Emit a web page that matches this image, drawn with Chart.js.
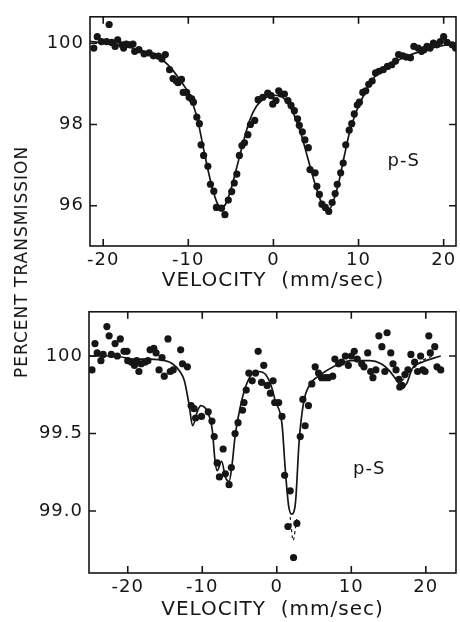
<!DOCTYPE html>
<html lang="en">
<head>
  <meta charset="UTF-8" />
  <title>Percent transmission vs velocity</title>
  <script src="https://cdn.jsdelivr.net/npm/chart.js"></script>
  <style>
    body { margin: 0; background: #fff; }
    #wrap { position: relative; width: 460px; height: 622px; }
    #topChart { position: absolute; left: 0; top: 0; }
    #bottomChart { position: absolute; left: 0; top: 295px; }
    #yLabel {
      position: absolute; left: 21px; top: 262px;
      transform: translate(-50%, -50%) rotate(-90deg);
      font: 17px "DejaVu Sans"; letter-spacing: 1px; white-space: nowrap; color: #111;
    }
  </style>
</head>
<body>
  <div id="wrap">
    <canvas id="topChart" width="460" height="295"></canvas>
    <canvas id="bottomChart" width="460" height="327"></canvas>
    <div id="yLabel">PERCENT TRANSMISSION</div>
  </div>

  <script>
    // ---- top panel (p-S, wide velocity scan) ----
    const topVel = [-21.1, -20.7, -20.2, -19.6, -19.3, -19.0, -18.6, -18.3, -17.8, -17.6, -17.3, -16.9, -16.5, -16.3,
      -15.8, -15.2, -14.6, -14.1, -13.5, -13.1, -12.7, -12.2, -11.8, -11.4, -11.2, -10.8, -10.6, -10.2, -9.9, -9.6,
      -9.4, -9.0, -8.7, -8.5, -8.2, -7.7, -7.4, -7.0, -6.7, -6.1, -5.7, -5.3, -4.9, -4.6, -4.3, -4.0, -3.7, -3.4,
      -3.0, -2.7, -2.2, -1.8, -1.25, -0.67, -0.27, -0.08, 0.3, 0.62, 0.9, 1.29, 1.7, 2.07, 2.46, 2.84, 3.04, 3.4,
      3.7, 4.1, 4.3, 4.9, 5.1, 5.4, 5.7, 6.1, 6.5, 6.9, 7.25, 7.5, 7.9, 8.2, 8.5, 8.9, 9.2, 9.5, 9.85, 10.1, 10.5,
      10.85, 11.2, 11.6, 12.0, 12.4, 12.9, 13.4, 13.9, 14.35, 14.7, 15.2, 15.6, 16.1, 16.5, 17.0, 17.4, 17.7, 18.05,
      18.4, 18.8, 19.2, 19.6, 20.0, 20.4, 21.0, 21.4];
    const topTrans = [99.88, 100.16, 100.04, 100.04, 100.46, 100.02, 99.92, 100.08, 99.96, 99.88, 99.98, 99.96, 99.98, 99.80,
      99.84, 99.74, 99.76, 99.69, 99.68, 99.61, 99.72, 99.35, 99.13, 99.07, 99.03, 99.11, 98.79, 98.79, 98.67, 98.63,
      98.55, 98.18, 98.02, 97.50, 97.24, 96.97, 96.53, 96.36, 95.96, 95.94, 95.78, 96.14, 96.35, 96.56, 96.78, 97.24, 97.48, 97.55,
      97.75, 98.00, 98.10, 98.61, 98.67, 98.77, 98.71, 98.50, 98.59, 98.83, 98.75, 98.75, 98.59, 98.47, 98.34, 98.14, 97.98, 97.82,
      97.62, 97.43, 96.89, 96.81, 96.48, 96.28, 96.04, 95.96, 95.86, 96.08, 96.30, 96.53, 96.81, 97.05, 97.50, 97.86, 98.02, 98.26, 98.48, 98.55, 98.79,
      98.83, 98.99, 99.07, 99.27, 99.31, 99.35, 99.43, 99.47, 99.56, 99.72, 99.69, 99.66, 99.64, 99.92, 99.88, 99.80, 99.84, 99.92,
      99.88, 100.0, 99.96, 100.04, 100.16, 100.02, 99.96, 99.88];
    const topFitVel = [-21.6, -20, -18, -16, -14, -13, -12, -11, -10, -9, -8.3, -7.6, -7.0, -6.5, -6.1, -5.6, -5.0, -4.3,
      -3.5, -2.8, -2.0, -1.0, 0.0, 0.8, 1.6, 2.4, 3.2, 4.0, 4.8, 5.5, 6.1, 6.6, 7.1, 7.7, 8.3, 9.0, 9.8, 10.8, 12, 13.5,
      15, 17, 19, 21.5];
    const topFitTrans = [100.05, 100.0, 99.95, 99.85, 99.7, 99.58, 99.38, 99.1, 98.78, 98.2, 97.5, 96.8, 96.3, 96.02, 95.95, 96.05, 96.4, 96.95,
      97.6, 98.1, 98.45, 98.65, 98.72, 98.7, 98.55, 98.25, 97.8, 97.2, 96.6, 96.15, 95.93, 95.93, 96.15, 96.6, 97.2, 97.85, 98.35, 98.8, 99.2, 99.45,
      99.62, 99.78, 99.9, 100.0];
    const topXTicks = [-20, -10, 0, 10, 20];
    const topYTicks = [96, 98, 100];

    // ---- bottom panel (p-S, narrow scan) ----
    const botVel = [-24.8, -24.4, -24.1, -23.6, -23.3, -22.8, -22.5, -22.2, -21.7, -21.4, -21.0, -20.5, -20.1, -20.0,
      -19.5, -19.1, -18.8, -18.5, -18.2, -17.7, -17.3, -17.0, -16.5, -16.2, -15.8, -15.4, -15.1, -14.6, -14.3, -13.9,
      -12.9, -12.65, -12.0, -11.5, -11.1, -10.9, -10.1, -9.2, -8.7, -8.4, -8.0, -7.7, -7.2, -6.9, -6.4, -6.1, -5.6,
      -5.2, -4.6, -4.4, -4.1, -3.75, -3.3, -2.85, -2.5, -2.05, -1.75, -1.3, -0.86, -0.5, -0.28, 0.25, 0.7, 1.05,
      1.5, 1.8, 2.25, 2.7, 3.15, 3.5, 3.8, 4.25, 4.7, 5.15, 5.6, 6.0, 6.5, 6.9, 7.5, 7.8, 8.3, 8.7, 9.2, 9.6, 10.0,
      10.4, 10.8, 11.4, 11.7, 12.2, 12.6, 12.9, 13.3, 13.7, 14.1, 14.5, 14.8, 15.3, 15.6, 16.0, 16.4, 16.5, 16.8,
      17.2, 17.6, 18.0, 18.5, 18.9, 19.3, 19.6, 19.9, 20.4, 20.6, 21.2, 21.5, 22.0];
    const botTrans = [99.91, 100.08, 100.02, 99.97, 100.01, 100.19, 100.13, 100.01, 100.08, 100.0, 100.11, 100.03, 100.03, 99.97,
      99.96, 99.94, 99.97, 99.90, 99.95, 99.96, 99.97, 100.04, 100.05, 100.02, 99.91, 99.99, 99.87, 100.11, 99.90, 99.91,
      100.04, 99.95, 99.93, 99.68, 99.66, 99.60, 99.61, 99.64, 99.58, 99.48, 99.31, 99.22, 99.40, 99.24, 99.17, 99.28, 99.50,
      99.57, 99.65, 99.70, 99.78, 99.89, 99.84, 99.89, 100.03, 99.83, 99.94, 99.81, 99.76, 99.84, 99.70, 99.70, 99.61, 99.23,
      98.90, 99.13, 98.70, 98.92, 99.48, 99.72, 99.55, 99.68, 99.82, 99.93, 99.89, 99.86, 99.86, 99.86, 99.87, 99.98, 99.95, 99.96, 100.0, 99.94, 100.0,
      100.03, 99.98, 99.95, 99.93, 100.02, 99.90, 99.86, 99.91, 100.13, 100.06, 99.90, 100.15, 100.02, 99.95, 99.91, 99.85, 99.80, 99.81,
      99.88, 99.91, 100.01, 99.96, 99.90, 100.0, 99.91, 99.90, 100.13, 100.02, 100.06, 99.93, 99.91];
    const botFitVel = [-25.3, -22, -19, -17, -15, -14, -13, -12.4, -11.75, -11.3, -10.6, -10.2, -9.3, -8.65, -8.3, -8.0,
      -7.4, -6.9, -6.4, -6.0, -5.6, -4.9, -4.2, -3.2, -2.5, -1.5, -0.7, -0.2, 0.7, 1.15, 1.6, 2.0, 2.5, 3.0, 3.6, 4.5,
      5.6, 6.5, 8.0, 10.0, 12.5, 14.0, 15.0, 16.0, 16.8, 17.4, 18.2, 19.5, 22.0];
    const botFitTrans = [100.0, 100.0, 99.98, 99.98, 99.97, 99.95, 99.9, 99.84, 99.68, 99.55, 99.65, 99.68, 99.64, 99.52, 99.33, 99.26,
      99.32, 99.22, 99.19, 99.30, 99.48, 99.67, 99.8, 99.89, 99.9, 99.88, 99.8, 99.71, 99.56, 99.26, 99.03, 98.98, 99.05, 99.45, 99.7, 99.82,
      99.87, 99.9, 99.94, 99.97, 99.97, 99.95, 99.91, 99.85, 99.8, 99.82, 99.92, 99.96, 100.0];
    const botDipVel = [1.8, 2.2, 2.7];
    const botDipTrans = [98.96, 98.81, 98.96];
    const botTailVel = [16.8, 18.0, 19.5, 21.0];
    const botTailTrans = [99.84, 99.9, 99.97, 100.0];
    const botXTicks = [-20, -10, 0, 10, 20];
    const botYTicks = [99.0, 99.5, 100];

    const ink = '#161616';
    const font = 'DejaVu Sans';
    const xy = (xs, ys) => xs.map((v, i) => ({ x: v, y: ys[i] }));

    // box around the plot, inward ticks on all four sides, and the sample label
    const framePlugin = {
      id: 'frame',
      beforeDraw(chart) { chart.ctx.letterSpacing = '1px'; },
      afterDatasetsDraw(chart, args, opts) {
        const { ctx, chartArea: a, scales: { x, y } } = chart;
        ctx.save();
        ctx.strokeStyle = ink;
        ctx.lineWidth = 1.6;
        ctx.strokeRect(a.left, a.top, a.right - a.left, a.bottom - a.top);
        ctx.beginPath();
        x.ticks.forEach(t => {
          const px = x.getPixelForValue(t.value);
          ctx.moveTo(px, a.bottom); ctx.lineTo(px, a.bottom - 7);
          ctx.moveTo(px, a.top); ctx.lineTo(px, a.top + 7);
        });
        y.ticks.forEach(t => {
          const py = y.getPixelForValue(t.value);
          ctx.moveTo(a.left, py); ctx.lineTo(a.left + 7, py);
          ctx.moveTo(a.right, py); ctx.lineTo(a.right - 7, py);
        });
        ctx.stroke();
        ctx.font = '18px "' + font + '"';
        ctx.fillStyle = ink;
        ctx.textAlign = 'center';
        ctx.textBaseline = 'middle';
        ctx.fillText(opts.text, x.getPixelForValue(opts.at[0]), y.getPixelForValue(opts.at[1]));
        ctx.restore();
      }
    };

    function makePanel(id, cfg) {
      const datasets = [
        { data: cfg.points, showLine: false, pointRadius: 3.6, pointBackgroundColor: ink, pointBorderWidth: 0 },
        { data: cfg.fit, showLine: true, borderColor: ink, borderWidth: 1.7, pointRadius: 0, cubicInterpolationMode: 'monotone' }
      ];
      (cfg.dashed || []).forEach(d => datasets.push({
        data: d, showLine: true, borderColor: ink, borderWidth: 1.2, borderDash: [3, 3], pointRadius: 0, tension: 0.3
      }));

      return new Chart(document.getElementById(id), {
        type: 'scatter',
        data: { datasets },
        options: {
          responsive: false,
          animation: false,
          layout: { padding: { left: 0, right: 2, top: cfg.top, bottom: 0 } },
          plugins: {
            legend: { display: false },
            tooltip: { enabled: false },
            frame: { text: 'p-S', at: cfg.labelAt }
          },
          scales: {
            x: {
              type: 'linear', min: cfg.xMin, max: cfg.xMax,
              afterBuildTicks: s => { s.ticks = cfg.xTicks.map(v => ({ value: v })); },
              afterFit: s => { s.height = 49; },
              grid: { display: false, drawTicks: false },
              border: { display: false },
              ticks: { autoSkip: false, maxRotation: 0, padding: 4, color: ink, font: { family: font, size: 18 } },
              title: { display: true, text: 'VELOCITY  (mm/sec)', color: ink, font: { family: font, size: 20 }, padding: { top: 0, bottom: cfg.titlePad } }
            },
            y: {
              type: 'linear', min: cfg.yMin, max: cfg.yMax,
              afterBuildTicks: s => { s.ticks = cfg.yTicks.map(v => ({ value: v })); },
              afterFit: s => { s.width = cfg.left; },
              grid: { display: false, drawTicks: false },
              border: { display: false },
              ticks: { padding: 6, color: ink, font: { family: font, size: 18 }, callback: cfg.fmt }
            }
          }
        },
        plugins: [framePlugin]
      });
    }

    makePanel('topChart', {
      points: xy(topVel, topTrans), fit: xy(topFitVel, topFitTrans),
      xMin: -21.55, xMax: 21.45, yMin: 95.01, yMax: 100.65,
      xTicks: topXTicks, yTicks: topYTicks, fmt: v => String(v),
      top: 13, left: 90, titlePad: 2, labelAt: [15.3, 97.09]
    });

    makePanel('bottomChart', {
      points: xy(botVel, botTrans), fit: xy(botFitVel, botFitTrans),
      dashed: [xy(botDipVel, botDipTrans), xy(botTailVel, botTailTrans)],
      xMin: -25.2, xMax: 24.05, yMin: 98.6, yMax: 100.285,
      xTicks: botXTicks, yTicks: botYTicks, fmt: v => (v === 100 ? '100' : v.toFixed(1)),
      top: 16, left: 89, titlePad: 0, labelAt: [12.4, 99.27]
    });
  </script>
</body>
</html>
